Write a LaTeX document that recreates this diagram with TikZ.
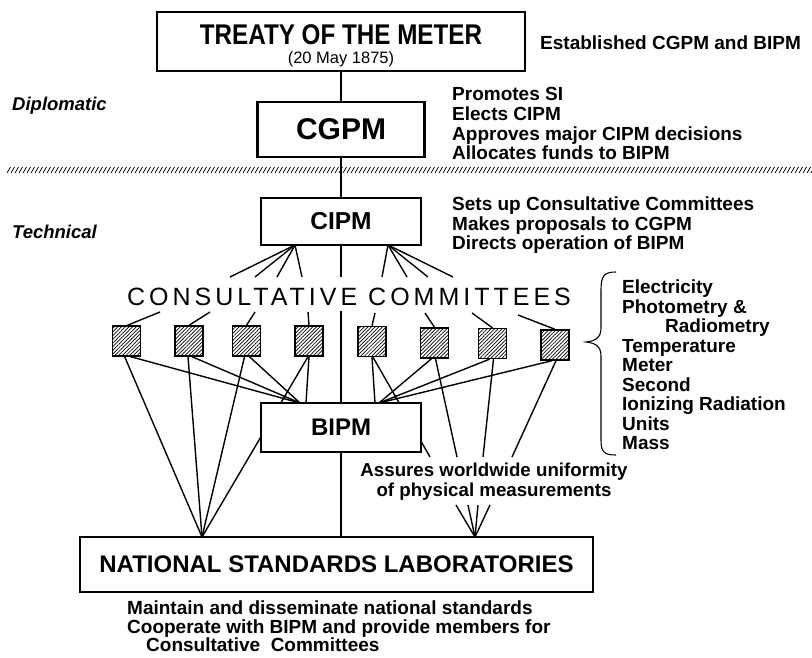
\documentclass[tikz,border=0pt]{standalone}
\usepackage{fontspec}
\setmainfont{Liberation Sans}
\newfontfamily\condfont[FakeStretch=0.85]{Liberation Sans}
\newfontfamily\ccfont[LetterSpace=16]{Liberation Sans}
\usetikzlibrary{patterns.meta,calc}
\pgfdeclarelayer{background}
\pgfsetlayers{background,main}
\begin{document}
\begin{tikzpicture}[x=1pt,y=-1pt,
  box/.style={draw,line width=2.4pt,fill=white,inner sep=0pt},
  conn/.style={line width=1.4pt},
  spine/.style={line width=1.6pt},
  sqbox/.style={draw,line width=1.4pt,minimum width=28pt,minimum height=30pt,inner sep=0pt,
     pattern={Lines[angle=45,distance=2.6pt,line width=0.7pt]}},
  note/.style={font=\fontsize{19}{19.5}\selectfont\bfseries,anchor=base west,inner sep=0pt},
  notec/.style={font=\fontsize{18.7}{19.5}\selectfont\bfseries,anchor=base,inner sep=0pt},
  side/.style={font=\fontsize{18.5}{19.5}\selectfont\bfseries\itshape,anchor=base west,inner sep=0pt}
]
\path[use as bounding box] (0,0) rectangle (812,658);

% boxes
\node[box,minimum width=368pt,minimum height=59pt] (treaty) at (341,41.5) {};
\node[font=\condfont\bfseries\fontsize{28.5}{28.5}\selectfont,anchor=base,inner sep=0pt] (treatyT) at (341,45) {TREATY OF THE METER};
\node[font=\fontsize{16.5}{16.5}\selectfont,anchor=base,inner sep=0pt] (treatyD) at (341,63.5) {(20 May 1875)};
\node[box,minimum width=167pt,minimum height=55pt,font=\bfseries\fontsize{30}{30}\selectfont] (cgpm) at (341,129.5) {CGPM};
\node[box,minimum width=160pt,minimum height=47pt,font=\bfseries\fontsize{24.5}{24.5}\selectfont] (cipm) at (341,221.5) {CIPM};
\node[box,minimum width=160pt,minimum height=49pt,font=\bfseries\fontsize{24}{24}\selectfont] (bipm) at (341,427.5) {BIPM};
\node[box,minimum width=513pt,minimum height=55pt,font=\bfseries\fontsize{24}{24}\selectfont] (nsl) at (336.5,564.5) {NATIONAL STANDARDS LABORATORIES};

% committee squares
\node[sqbox] (sq1) at (126.5,341) {};
\node[sqbox] (sq2) at (189,341) {};
\node[sqbox] (sq3) at (246.5,341) {};
\node[sqbox] (sq4) at (309,341) {};
\node[sqbox] (sq5) at (372,341.5) {};
\node[sqbox] (sq6) at (434.5,343) {};
\node[sqbox] (sq7) at (492.5,343.5) {};
\node[sqbox] (sq8) at (555,345) {};

% committee heading
\node[font=\ccfont\fontsize{25}{25}\selectfont,anchor=base,inner sep=0pt] (cc) at (349,305) {CONSULTATIVE COMMITTEES};

% side labels
\node[side] (dipl) at (12,111) {Diplomatic};
\node[side] (tech) at (12,238) {Technical};

% notes
\node[note] (est) at (540,50) {Established CGPM and BIPM};
\node[note] (p1) at (452,101) {Promotes SI};
\node[note] (p2) at (452,121) {Elects CIPM};
\node[note] (p3) at (452,141) {Approves major CIPM decisions};
\node[note] (p4) at (452,160) {Allocates funds to BIPM};
\node[note] (s1) at (452,211) {Sets up Consultative Committees};
\node[note] (s2) at (452,231) {Makes proposals to CGPM};
\node[note] (s3) at (452,250) {Directs operation of BIPM};

\node[note] (l1) at (622,293.5) {Electricity};
\node[note] (l2) at (622,313) {Photometry \&};
\node[note] (l3) at (665,332.5) {Radiometry};
\node[note] (l4) at (622,352) {Temperature};
\node[note] (l5) at (622,371.5) {Meter};
\node[note] (l6) at (622,391) {Second};
\node[note] (l7) at (622,410.5) {Ionizing Radiation};
\node[note] (l8) at (622,430) {Units};
\node[note] (l9) at (622,449.5) {Mass};

\node[notec] (as1) at (494,476) {Assures worldwide uniformity};
\node[notec] (as2) at (494,496) {of physical measurements};

\node[note] (m1) at (127,614) {Maintain and disseminate national standards};
\node[note] (m2) at (127,633) {Cooperate with BIPM and provide members for};
\node[note] (m3) at (146,651) {Consultative\ \ Committees};

% brace
\draw[line width=1.1pt] (616,272) .. controls (604,272) and (601,276) .. (601,290)
  -- (601,328) .. controls (601,338) and (595,341) .. (586,342)
  .. controls (595,343) and (601,346) .. (601,356)
  -- (601,440) .. controls (601,452) and (604,455) .. (616,455);

% free-end coordinates
\coordinate (fl) at (295,245);
\coordinate (fr) at (388,245);
\coordinate (a1) at (230,277);
\coordinate (a2) at (255,277);
\coordinate (a3) at (277,277);
\coordinate (a4) at (302,277);
\coordinate (a5) at (382,277);
\coordinate (a6) at (407,277);
\coordinate (a7) at (428,277);
\coordinate (a8) at (453,277);
\coordinate (c0) at (341,277);
\coordinate (c1) at (341,311);
\coordinate (t1) at (160,312);
\coordinate (t2) at (210,312);
\coordinate (t3) at (255,312);
\coordinate (t4) at (308,312);
\coordinate (t5) at (375,313);
\coordinate (t6) at (425,313);
\coordinate (t7) at (472,313);
\coordinate (t8) at (518,315);
\coordinate (bl) at (300,403);
\coordinate (bl4) at (306,403);
\coordinate (br5) at (375,403);
\coordinate (br) at (379,403);
\coordinate (fanL) at (202,537);
\coordinate (fanR) at (475,537);
\coordinate (r5) at (430,457);
\coordinate (r6) at (457,457);
\coordinate (r7) at (483,457);
\coordinate (r8) at (512,457);
\coordinate (q1) at (456,505);
\coordinate (q2) at (468,505);
\coordinate (q3) at (478,505);
\coordinate (q4) at (490,505);

\begin{pgfonlayer}{background}
% divider
\foreach \i in {0,...,201} \draw[line width=0.75pt] ({\i*4+7},173) -- ({\i*4+10.5},167);
% vertical spine
\draw[spine] (treaty.south) -- (cgpm.north);
\draw[spine] (cgpm.south) -- (cipm.north);
\draw[spine] (cipm.south) -- (c0);
\draw[spine] (c1) -- (bipm.north);
\draw[spine] (bipm.south) -- (bipm.south |- nsl.north);
% CIPM fans
\foreach \e in {a1,a2,a3,a4} \draw[conn] (fl) -- (\e);
\foreach \e in {a5,a6,a7,a8} \draw[conn] (fr) -- (\e);
% heading to squares
\foreach \k in {1,...,8} \draw[conn] (t\k) -- (sq\k.north);
% squares to BIPM
\draw[conn] ($(sq1.south)+(3,0)$) -- (bl);
\draw[conn] ($(sq2.south)+(3,0)$) -- (bl);
\draw[conn] ($(sq3.south)+(3,0)$) -- (bl);
\draw[conn] (sq4.south) -- (bl4);
\draw[conn] (sq5.south) -- (br5);
\draw[conn] ($(sq6.south)+(-3,0)$) -- (br);
\draw[conn] ($(sq7.south)+(-3,0)$) -- (br);
\draw[conn] ($(sq8.south)+(-3,0)$) -- (br);
% squares to national labs (left)
\draw[conn] ($(sq1.south)+(-2,0)$) -- (fanL);
\draw[conn] ($(sq2.south)+(-1,0)$) -- (fanL);
\draw[conn] ($(sq3.south)+(-2,0)$) -- (fanL);
\draw[conn] ($(sq4.south)+(-1,0)$) -- (fanL);
% squares to national labs (right, interrupted by text)
\draw[conn] ($(sq5.south)+(1,0)$) -- (r5);
\draw[conn] ($(sq6.south)+(1,0)$) -- (r6);
\draw[conn] ($(sq7.south)+(1,0)$) -- (r7);
\draw[conn] ($(sq8.south)+(1,0)$) -- (r8);
\foreach \e in {q1,q2,q3,q4} \draw[conn] (\e) -- (fanR);
\end{pgfonlayer}
\end{tikzpicture}
\end{document}
